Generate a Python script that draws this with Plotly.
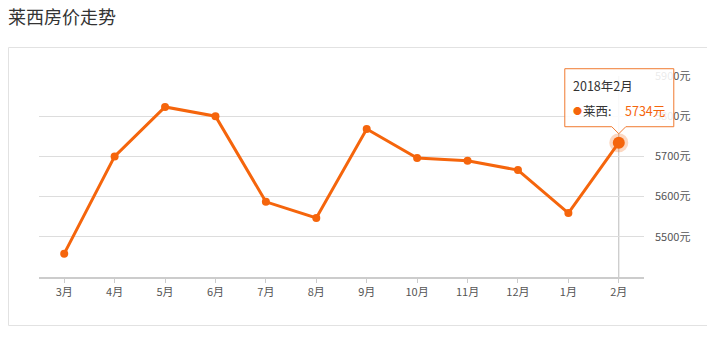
import plotly.graph_objects as go

# ---- data ----
months = ["3月", "4月", "5月", "6月", "7月", "8月", "9月", "10月", "11月", "12月", "1月", "2月"]
prices = [5458, 5700, 5823, 5800, 5587, 5547, 5768, 5696, 5689, 5666, 5559, 5734]
ytick_vals = [5500, 5600, 5700, 5800, 5900]
y_range = [5400, 5900]
series_name = "莱西"
tooltip_title = "2018年2月"
chart_title = "莱西房价走势"

W, H = 707, 339
ML, MR, MT, MB = 39, 63, 76, 62
PW, PH = W - ML - MR, H - MT - MB

ORANGE = "#f5650c"
FONT = "Noto Sans CJK SC, Microsoft YaHei, sans-serif"

def px2paper_x(px):
    return (px - ML) / PW

def px2paper_y(py):
    return (H - MB - py) / PH

# position of highlighted point in paper fractions (category axis, linear y axis)
hi = len(months) - 1
hx = (hi + 0.5) / len(months)
hy = (prices[hi] - y_range[0]) / (y_range[1] - y_range[0])

fig = go.Figure()

fig.add_trace(go.Scatter(
    x=months, y=prices, mode="lines+markers",
    line=dict(color=ORANGE, width=3),
    marker=dict(color=ORANGE, size=8),
    hoverinfo="skip", showlegend=False,
))
# highlighted last point (halo + dot)
fig.add_trace(go.Scatter(
    x=[months[hi]], y=[prices[hi]], mode="markers",
    marker=dict(color="rgba(245,101,12,0.25)", size=19),
    hoverinfo="skip", showlegend=False,
))
fig.add_trace(go.Scatter(
    x=[months[hi]], y=[prices[hi]], mode="markers",
    marker=dict(color=ORANGE, size=12),
    hoverinfo="skip", showlegend=False,
))

shapes = [
    # panel border
    dict(type="rect", xref="paper", yref="paper",
         x0=px2paper_x(8.5), x1=px2paper_x(730), y0=px2paper_y(325.5), y1=px2paper_y(47.5),
         line=dict(color="#e2e2e2", width=1), fillcolor="rgba(0,0,0,0)", layer="below"),
    # pointer vertical line
    dict(type="line", xref="paper", yref="paper", x0=hx, x1=hx, y0=0, y1=1,
         line=dict(color="#bbbbbb", width=1), layer="below"),
    # tooltip box with notch
    dict(type="path", xref="paper", yref="paper", xsizemode="pixel", ysizemode="pixel",
         xanchor=hx, yanchor=hy,
         path="M -54,74 L 55,74 L 55,16 L 7,16 L 0,9 L -7,16 L -54,16 Z",
         fillcolor="rgba(255,255,255,0.88)", line=dict(color="#f07a30", width=1), layer="above"),
]

annotations = [
    dict(xref="x", yref="y", x=months[hi], y=prices[hi], text=tooltip_title,
         showarrow=False, xanchor="left", yanchor="middle", xshift=-48, yshift=57,
         font=dict(family=FONT, size=12.5, color="#333333")),
    dict(xref="x", yref="y", x=months[hi], y=prices[hi], text="●",
         showarrow=False, xanchor="left", yanchor="middle", xshift=-48, yshift=32,
         font=dict(family=FONT, size=9, color=ORANGE)),
    dict(xref="x", yref="y", x=months[hi], y=prices[hi], text=series_name + ":",
         showarrow=False, xanchor="left", yanchor="middle", xshift=-38, yshift=32,
         font=dict(family=FONT, size=12.5, color="#333333")),
    dict(xref="x", yref="y", x=months[hi], y=prices[hi], text=f"{prices[hi]}元",
         showarrow=False, xanchor="left", yanchor="middle", xshift=4, yshift=32,
         font=dict(family=FONT, size=12.5, color=ORANGE)),
]

fig.update_layout(
    width=W, height=H,
    margin=dict(l=ML, r=MR, t=MT, b=MB, pad=0),
    paper_bgcolor="white", plot_bgcolor="white",
    font=dict(family=FONT, size=11, color="#555555"),
    title=dict(text=chart_title, xref="container", yref="container",
               x=8 / W, y=1 - 18 / H, xanchor="left", yanchor="middle",
               font=dict(family=FONT, size=18, color="#333333")),
    shapes=shapes, annotations=annotations,
    showlegend=False,
    xaxis=dict(type="category", range=[-0.5, len(months) - 0.5],
               showline=True, linecolor="#cccccc", linewidth=2,
               ticks="outside", ticklen=4, tickcolor="#cccccc", tickwidth=1,
               showgrid=False, zeroline=False, fixedrange=True,
               tickfont=dict(family=FONT, size=11, color="#555555")),
    yaxis=dict(side="right", range=y_range, tickvals=ytick_vals,
               ticktext=[f"{v}元" for v in ytick_vals],
               showgrid=True, gridcolor="#dddddd", gridwidth=1,
               showline=False, zeroline=False, ticks="", ticklabelstandoff=10,
               tickfont=dict(family=FONT, size=11, color="#555555")),
)

fig.write_html("out.html")
